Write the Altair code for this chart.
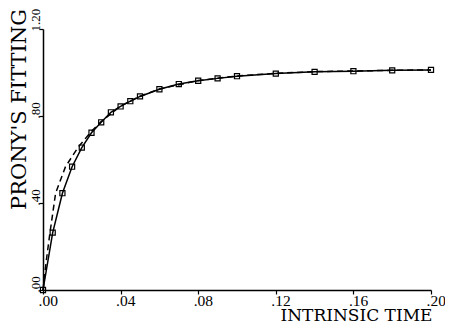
import altair as alt
import pandas as pd

# Fitted (solid, with square markers)
x_fit = [0, .005, .01, .015, .02, .025, .03, .035, .04, .045, .05, .06, .07, .08, .09, .10, .12, .14, .16, .18, .20]
y_fit = [0, 0.264, 0.445, 0.567, 0.655, 0.723, 0.771, 0.817, 0.844, 0.868, 0.890, 0.923, 0.947, 0.962, 0.973, 0.983, 0.995, 1.003, 1.006, 1.010, 1.012]

# Reference curve (dashed)
x_ref = [0, 0.0017, 0.0036, 0.0065, 0.0116, 0.018, 0.025, 0.03, 0.04, 0.05, 0.06, 0.08, 0.10, 0.12, 0.14, 0.16, 0.18, 0.20]
y_ref = [0, 0.135, 0.264, 0.445, 0.567, 0.655, 0.73, 0.775, 0.846, 0.891, 0.924, 0.963, 0.984, 0.996, 1.004, 1.007, 1.010, 1.012]

x_ticks = [0, 0.04, 0.08, 0.12, 0.16, 0.20]
y_ticks = [0, 0.4, 0.8, 1.2]

fit = pd.DataFrame({"t": x_fit, "v": y_fit})
ref = pd.DataFrame({"t": x_ref, "v": y_ref})

FONT = "Liberation Serif"
TFONT = "DejaVu Serif"

PW, PH = 388, 261

x_enc = alt.X(
    "t:Q",
    scale=alt.Scale(domain=[0, 0.2], nice=False, zero=False),
    axis=alt.Axis(
        values=x_ticks,
        title="INTRINSIC TIME",
        labelExpr="datum.value < 1 ? substring(format(datum.value, '.2f'), 1) : format(datum.value, '.2f')",
        labelAlign="left",
        labelOffset=-5,
        labelBaseline="alphabetic",
        labelPadding=11,
        labelFontSize=15.5,
        labelFont=FONT,
        labelFlush=False,
        labelOverlap=False,
        tickSize=4,
        titleFont=TFONT,
        titleFontSize=17,
        titleFontWeight="normal",
        titleAlign="right",
        titleAnchor="end",
        titleBaseline="alphabetic",
        titleX=PW + 1,
        titleY=30,
    ),
)
y_enc = alt.Y(
    "v:Q",
    scale=alt.Scale(domain=[0, 1.2], nice=False, zero=False),
    axis=alt.Axis(
        values=y_ticks,
        title="PRONY'S FITTING",
        labelExpr="datum.value < 1 ? substring(format(datum.value, '.2f'), 1) : format(datum.value, '.2f')",
        labelAngle=-90,
        labelAlign="left",
        labelBaseline="alphabetic",
        labelPadding=0,
        labelOffset=2,
        labelFontSize=13,
        labelFont=FONT,
        labelFlush=False,
        labelOverlap=False,
        tickSize=4,
        titleFont=TFONT,
        titleFontSize=21,
        titleFontWeight="normal",
        titleAngle=270,
        titleAlign="center",
        titleBaseline="alphabetic",
        titleX=-18,
        titleY=80,
    ),
)

solid = alt.Chart(fit).mark_line(color="black", strokeWidth=1.5).encode(x=x_enc, y=y_enc)
dashed = alt.Chart(ref).mark_line(color="black", strokeWidth=1.5, strokeDash=[6, 4]).encode(x="t:Q", y="v:Q")
squares = alt.Chart(fit).mark_point(
    shape="square", size=26, filled=False, color="black", strokeWidth=1.2, opacity=1
).encode(x="t:Q", y="v:Q")

chart = (
    alt.layer(solid, dashed, squares)
    .properties(
        width=PW,
        height=PH,
        autosize=alt.AutoSizeParams(type="none"),
        padding={"left": 35, "top": 21, "right": 437 - 35 - PW, "bottom": 315 - 21 - PH},
        background="white",
    )
    .configure_view(stroke=None)
    .configure_axis(
        grid=False,
        domainColor="black",
        domainWidth=1.5,
        tickColor="black",
        tickWidth=1.2,
        labelColor="black",
        titleColor="black",
    )
)

chart.save("out.html", embed_options={"renderer": "svg", "actions": False})
